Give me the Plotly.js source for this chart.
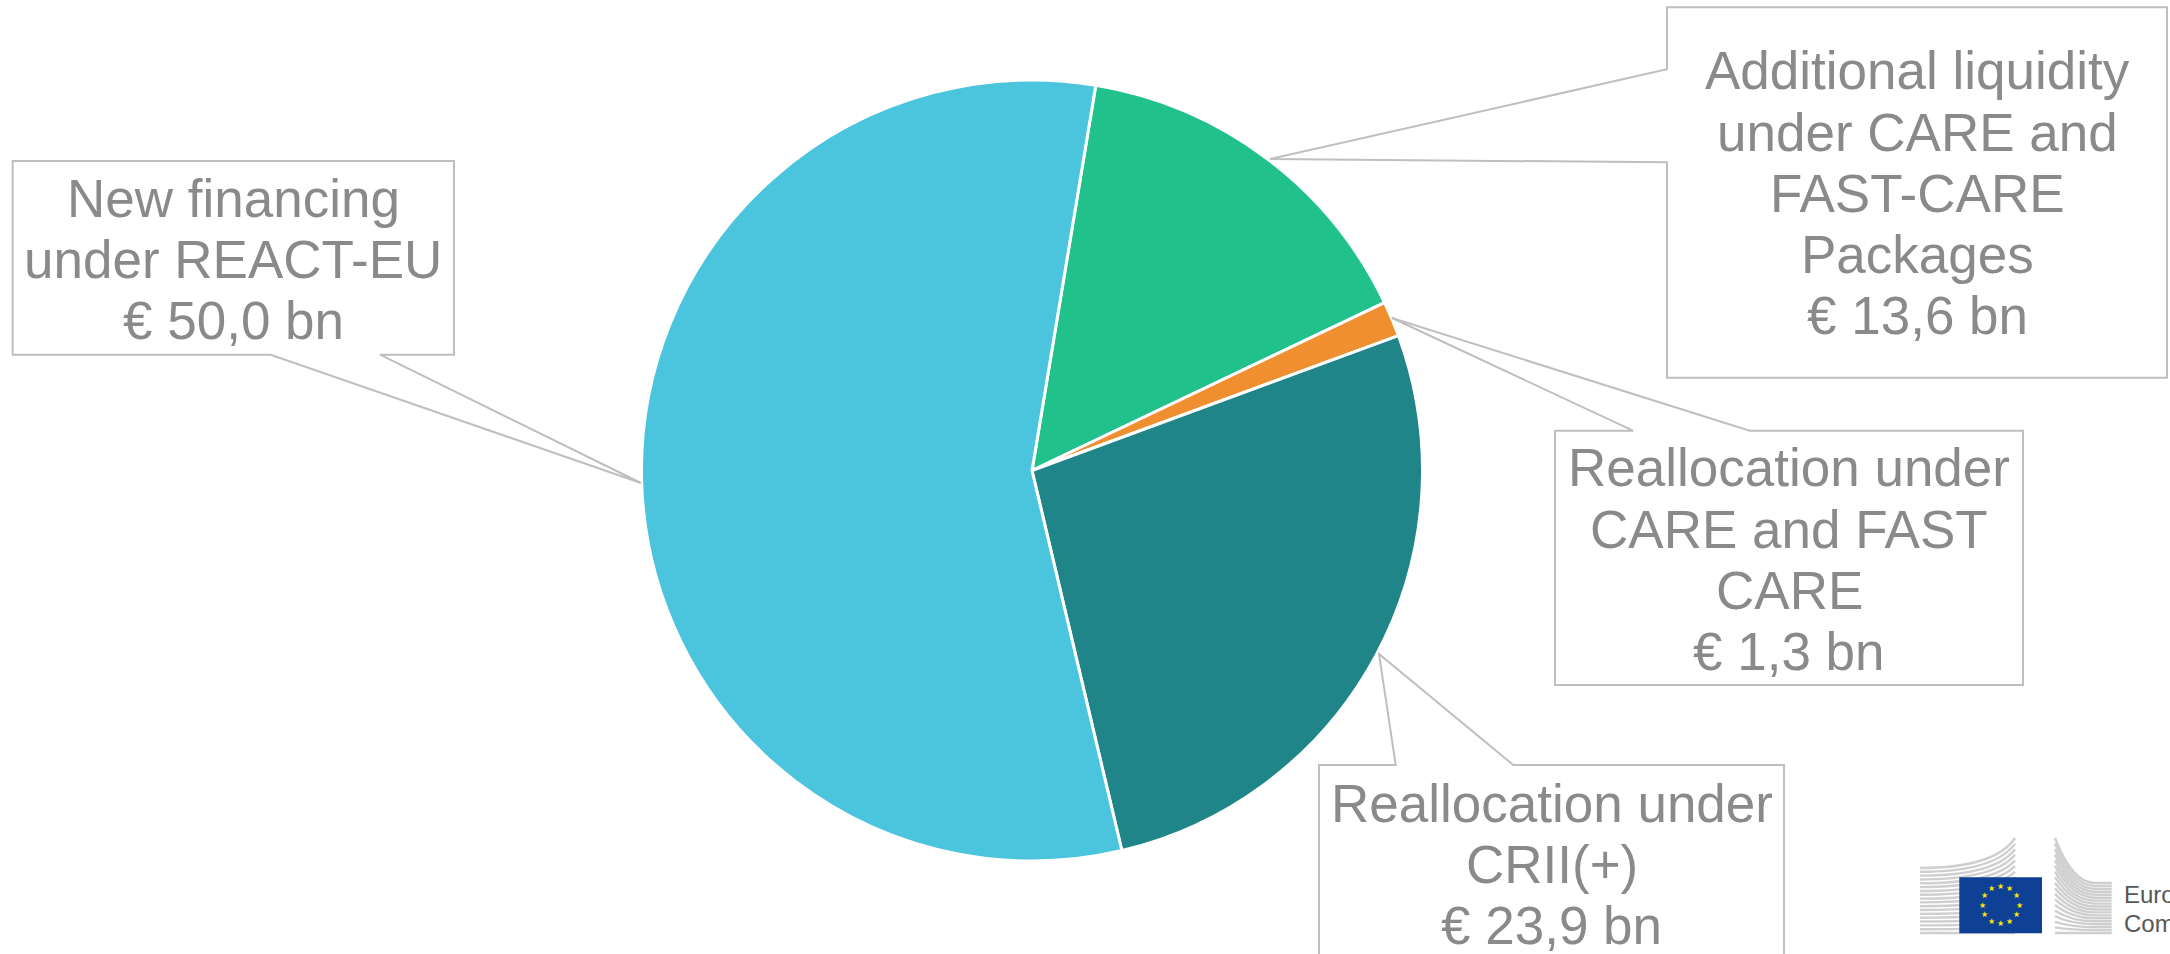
<!DOCTYPE html>
<html>
<head>
<meta charset="utf-8">
<script src="https://cdn.plot.ly/plotly-3.0.1.min.js"></script>
<style>
html,body{margin:0;padding:0;background:#fff;}
#chart{width:2170px;height:954px;}
</style>
</head>
<body>
<div id="chart"></div>
<script>
// ---- data ----
const categories = [
  "Additional liquidity under CARE and FAST-CARE Packages",
  "Reallocation under CARE and FAST CARE",
  "Reallocation under CRII(+)",
  "New financing under REACT-EU"
];
const values = [13.6, 1.3, 23.9, 50.0];
const labelLines = [
  ["Additional liquidity", "under CARE and", "FAST-CARE", "Packages"],
  ["Reallocation under", "CARE and FAST", "CARE"],
  ["Reallocation under", "CRII(+)"],
  ["New financing", "under REACT-EU"]
];
const sliceColors = ["#20C18A", "#EF8F30", "#1F8589", "#4BC4DD"];

// ---- layout helpers (pixel -> paper) ----
const W = 2170, H = 954;
const px = x => x / W;
const py = y => 1 - y / H;
function pathOf(points, close) {
  return points.map((p, i) => (i ? "L" : "M") + px(p[0]).toFixed(5) + "," + py(p[1]).toFixed(5)).join(" ") + (close ? " Z" : "");
}
const fmtVal = v => "€ " + v.toFixed(1).replace(".", ",") + " bn";

// callout boxes (pixel geometry)
const boxGeom = [
  { cx: 1917, base0: 89.5, step: 61.2,
    path: [[1667,7.3],[2167,7.3],[2167,377.7],[1667,377.7],[1667,162.3],[1270,159],[1667,69.3]], close: true },
  { cx: 1789, base0: 486.5, step: 61.2,
    path: [[1555,430.7],[1633,430.7],[1392,318],[1749.7,430.7],[2023,430.7],[2023,685],[1555,685]], close: true },
  { cx: 1551.5, base0: 821.7, step: 61,
    path: [[1319,970],[1319,765],[1395.7,765],[1379,654],[1513.3,765],[1784,765],[1784,970]], close: false },
  { cx: 233, base0: 216.7, step: 61.3,
    path: [[12.7,161],[454,161],[454,354.7],[380,354.7],[641,483],[270.7,354.7],[12.7,354.7]], close: true }
];

const FONT = "Liberation Sans, Arial, sans-serif";
const FS = 53;
const annotations = [];
const shapes = [];

categories.forEach((c, i) => {
  const g = boxGeom[i];
  const lines = labelLines[i].concat([fmtVal(values[i])]);
  lines.forEach((t, k) => {
    const baseline = g.base0 + k * g.step;
    annotations.push({
      xref: "paper", yref: "paper", x: px(g.cx), y: py(baseline - 0.35 * FS),
      xanchor: "center", yanchor: "middle", showarrow: false, text: t,
      font: { family: FONT, size: FS, color: "#8A8A8A" }
    });
  });
  shapes.push({ type: "path", xref: "paper", yref: "paper", path: pathOf(g.path, g.close),
    line: { color: "#BFBFBF", width: 2 }, fillcolor: "rgba(0,0,0,0)", layer: "above" });
});

// ---- EU Commission logo (decoration) ----
const stripe = "#CFCFCF";
const nStr = 18;
for (let i = 0; i < nStr; i++) {
  const f = i / (nStr - 1);
  // left block
  const yL = 868 + f * (933 - 868), yR = 838 + f * (933 - 838);
  shapes.push({ type: "path", xref: "paper", yref: "paper",
    path: "M" + px(1920) + "," + py(yL) + " Q" + px(1995) + "," + py(yL) + " " + px(2015) + "," + py(yR),
    line: { color: stripe, width: 2.4 } });
  // right block
  const rL = 838 + f * (933 - 838), rR = 883 + f * (933 - 883);
  shapes.push({ type: "path", xref: "paper", yref: "paper",
    path: "M" + px(2055) + "," + py(rL) + " Q" + px(2072) + "," + py(rR) + " " + px(2095) + "," + py(rR) + " L" + px(2111.7) + "," + py(rR),
    line: { color: stripe, width: 2.4 } });
}
shapes.push({ type: "rect", xref: "paper", yref: "paper", x0: px(1959.3), x1: px(2042), y0: py(933.3), y1: py(877.3),
  fillcolor: "#0E4095", line: { width: 0 } });
for (let s = 0; s < 12; s++) {
  const a = s * Math.PI / 6;
  annotations.push({ xref: "paper", yref: "paper", x: px(2000.5 + 18.5 * Math.sin(a)), y: py(905 - 18.5 * Math.cos(a)),
    xanchor: "center", yanchor: "middle", showarrow: false, text: "★",
    font: { family: "DejaVu Sans", size: 8, color: "#FFE500" } });
}
annotations.push({ xref: "paper", yref: "paper", x: px(2122), y: py(903 - 8.5), xanchor: "left", yanchor: "middle",
  showarrow: false, text: "European", font: { family: FONT, size: 24, color: "#575757" } });
annotations.push({ xref: "paper", yref: "paper", x: px(2122), y: py(931.7 - 8.5), xanchor: "left", yanchor: "middle",
  showarrow: false, text: "Commission", font: { family: FONT, size: 24, color: "#575757" } });

// ---- pie geometry ----
const cxP = 1032, cyP = 470.5, rP = 390.5;

const trace = {
  type: "pie",
  labels: categories,
  values: values,
  sort: false,
  direction: "clockwise",
  rotation: 9.4,
  textinfo: "none",
  hoverinfo: "label+value",
  marker: { colors: sliceColors, line: { color: "#FFFFFF", width: 3 } },
  domain: { x: [px(cxP - rP), px(cxP + rP)], y: [py(cyP + rP), py(cyP - rP)] },
  showlegend: false
};

const layout = {
  width: W, height: H,
  margin: { l: 0, r: 0, t: 0, b: 0 },
  paper_bgcolor: "#FFFFFF",
  plot_bgcolor: "#FFFFFF",
  showlegend: false,
  annotations: annotations,
  shapes: shapes
};

Plotly.newPlot("chart", [trace], layout, { displayModeBar: false, staticPlot: true });
</script>
</body>
</html>
